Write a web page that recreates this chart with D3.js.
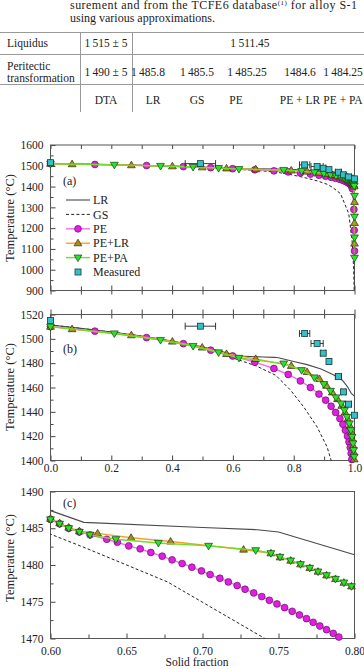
<!DOCTYPE html>
<html>
<head>
<meta charset="utf-8">
<script src="https://cdn.jsdelivr.net/npm/d3@7"></script>
<style>
  body { margin: 0; background: #fff; }
  svg { display: block; font-family: 'Liberation Serif', 'DejaVu Serif', 'Times New Roman', Times, serif; }
</style>
</head>
<body>
<svg id="fig" width="364" height="669"></svg>
<script>
// ---- table values ----
const tableHeads = ["DTA", "LR", "GS", "PE", "PE + LR", "PE + PA"];
const liquidusVals = ["1\u2009515 ± 5", "1\u2009511.45"];
const peritecticVals = ["1\u2009490 ± 5", "1\u2009485.8", "1\u2009485.5", "1\u2009485.25", "1484.6", "1\u2009484.25"];

// ---- curves, [solid fraction, temperature] ----
const lrCurve = [[0, 1511.4], [0.1, 1508.6], [0.2, 1505.6], [0.3, 1502.2], [0.4, 1498.2], [0.5, 1493.4],
  [0.55, 1490.4], [0.6, 1487.4], [0.622, 1485.8], [0.7, 1485.1], [0.736, 1484.8], [0.75, 1484.5],
  [0.8, 1481.4], [0.844, 1478.8], [0.89, 1475.2], [0.932, 1470.3], [0.96, 1466], [0.976, 1461],
  [0.99, 1455], [1.0, 1453], [1.0, 900]];
const gsCurve = [[0, 1511.4], [0.1, 1508.6], [0.2, 1505.6], [0.3, 1502.2], [0.4, 1498], [0.5, 1492.6],
  [0.55, 1489.2], [0.6, 1484.2], [0.622, 1482.4], [0.677, 1477.7], [0.741, 1470], [0.789, 1458],
  [0.833, 1444], [0.877, 1427.6], [0.91, 1411], [0.927, 1397], [0.954, 1366], [0.981, 1270],
  [0.992, 1142], [0.997, 1013], [0.999, 900]];

// full range markers, panels (a) and (b)
const peFull = [[0, 1510], [0.146, 1506.3], [0.316, 1501], [0.437, 1496], [0.527, 1490.7], [0.599, 1485.9],
  [0.672, 1480.8], [0.735, 1475.6], [0.782, 1470.7], [0.822, 1465.4], [0.855, 1460], [0.883, 1454.6],
  [0.905, 1449.6], [0.923, 1444.6], [0.938, 1439.5], [0.952, 1434.5], [0.962, 1429.8], [0.970, 1424.9],
  [0.977, 1420], [0.982, 1415.3], [0.986, 1410.6], [0.989, 1405.8], [0.991, 1400.8], [0.993, 1390],
  [0.998, 1290], [0.999, 1190], [1.0, 1090]];
const pelrFull = [[0, 1510], [0.071, 1508], [0.266, 1503], [0.401, 1497.8], [0.499, 1492.9], [0.579, 1487.6],
  [0.675, 1483.5], [0.792, 1477.8], [0.844, 1472.8], [0.885, 1467], [0.908, 1461.5], [0.927, 1456],
  [0.944, 1450.5], [0.958, 1445], [0.969, 1439.5], [0.978, 1434], [0.985, 1428.5], [0.99, 1423],
  [0.993, 1417.5], [0.996, 1412], [0.998, 1406.5], [0.999, 1401], [1.0, 1326], [1.0, 1225], [1.0, 1126]];
const pepaFull = [[0, 1510], [0.21, 1504.4], [0.362, 1499], [0.469, 1494.1], [0.553, 1488.8], [0.62, 1484.3],
  [0.767, 1479.6], [0.826, 1474.2], [0.868, 1468.2], [0.899, 1462.7], [0.921, 1457.2], [0.939, 1451.8],
  [0.956, 1446.8], [0.967, 1441.3], [0.975, 1435.8], [0.983, 1430.4], [0.988, 1424.9], [0.992, 1419.4],
  [0.995, 1414], [0.997, 1408.5], [0.999, 1403], [1.0, 1355], [1.0, 1255], [1.0, 1155], [1.0, 1057]];

// zoomed markers, panel (c)
const peZoom = [[0.6, 1486.2], [0.606, 1485.6], [0.612, 1485.0], [0.619, 1484.5], [0.626, 1484.1],
  [0.637, 1483.5], [0.644, 1483.1], [0.6515, 1482.6], [0.659, 1482.2], [0.666, 1481.7], [0.6735, 1481.2],
  [0.680, 1480.7], [0.6866, 1480.2], [0.693, 1479.7], [0.6993, 1479.2], [0.705, 1478.7], [0.7114, 1478.2],
  [0.717, 1477.7], [0.7228, 1477.2], [0.728, 1476.7], [0.7337, 1476.2], [0.739, 1475.7], [0.744, 1475.2],
  [0.749, 1474.7], [0.754, 1474.2], [0.759, 1473.7], [0.7638, 1473.2], [0.7684, 1472.7], [0.7728, 1472.2],
  [0.7772, 1471.7], [0.7816, 1471.2], [0.786, 1470.7], [0.7897, 1470.2], [0.794, 1469.7]];
const pelrZoom = [[0.6, 1486.3], [0.606, 1485.7], [0.612, 1485.1], [0.619, 1484.6], [0.631, 1484.3],
  [0.653, 1483.7], [0.679, 1483.2], [0.727, 1482.1], [0.745, 1481.6], [0.751, 1481.05], [0.758, 1480.6],
  [0.7645, 1480.1], [0.7706, 1479.6], [0.776, 1479.1], [0.7816, 1478.6], [0.7875, 1478.1], [0.793, 1477.6],
  [0.798, 1477.1]];
const pepaZoom = [[0.6, 1486.2], [0.606, 1485.6], [0.612, 1485.0], [0.619, 1484.5], [0.626, 1484.1],
  [0.643, 1483.5], [0.671, 1483.0], [0.704, 1482.6], [0.735, 1482.0], [0.745, 1481.6], [0.751, 1481.1],
  [0.758, 1480.6], [0.7645, 1480.1], [0.7706, 1479.6], [0.776, 1479.1], [0.7816, 1478.6], [0.7875, 1478.1],
  [0.793, 1477.6], [0.798, 1477.1]];

// measured: [solid fraction, temperature, +- fraction error]
const measured = [[0, 1515, 0], [0.493, 1510.4, 0.05], [0.836, 1504.4, 0.017], [0.877, 1496.2, 0.02],
  [0.897, 1488.2, 0.008], [0.916, 1481.4, 0.006], [0.947, 1469, 0.01], [0.964, 1456.4, 0.006],
  [0.98, 1446.3, 0.01], [1.0, 1437.2, 0]];

// ticks
const xTicksFull = [0, 0.2, 0.4, 0.6, 0.8, 1.0];
const xTicksZoom = [0.60, 0.65, 0.70, 0.75, 0.80];
const yTicksA = [900, 1000, 1100, 1200, 1300, 1400, 1500, 1600];
const yTicksB = [1400, 1420, 1440, 1460, 1480, 1500, 1520];
const yTicksC = [1470, 1475, 1480, 1485, 1490];

const SERIF = "'Liberation Serif', 'DejaVu Serif', 'Times New Roman', Times, serif";
const svg = d3.select("#fig");

// ---- caption and table ----
const cap = svg.append("text").attr("x", 70).attr("y", 9).attr("font-size", 12)
  .attr("textLength", 287).attr("lengthAdjust", "spacing").attr("fill", "#222");
cap.append("tspan").text("surement and from the TCFE6 database");
cap.append("tspan").attr("font-size", 7).attr("dy", -4).text("(1)");
cap.append("tspan").attr("dy", 4).text(" for alloy S-1");
svg.append("text").attr("x", 70).attr("y", 21.5).attr("font-size", 12).attr("fill", "#222")
  .text("using various approximations.");

const tbl = svg.append("g").attr("font-size", 11.5).attr("fill", "#222");
[32, 54, 84].forEach(yy => {
  tbl.append("line").attr("x1", 0).attr("x2", 364).attr("y1", yy + 0.5).attr("y2", yy + 0.5)
    .attr("stroke", "#999").attr("stroke-width", 1);
});
[80, 132].forEach(xx => {
  tbl.append("line").attr("x1", xx + 0.5).attr("x2", xx + 0.5).attr("y1", 32).attr("y2", 112)
    .attr("stroke", "#999").attr("stroke-width", 1);
});
tbl.append("text").attr("x", 7).attr("y", 47).text("Liquidus");
tbl.append("text").attr("x", 7).attr("y", 70).text("Peritectic");
tbl.append("text").attr("x", 7).attr("y", 81.5).text("transformation");
const colX = [106, 148, 197, 247, 300, 343];
const headX = [106, 153, 197, 236, 300, 343];
tbl.append("text").attr("x", 106).attr("y", 47).attr("text-anchor", "middle").text(liquidusVals[0]);
tbl.append("text").attr("x", 250).attr("y", 47).attr("text-anchor", "middle").text(liquidusVals[1]);
peritecticVals.forEach((v, i) => {
  tbl.append("text").attr("x", colX[i]).attr("y", 76).attr("text-anchor", "middle").text(v);
});
tableHeads.forEach((v, i) => {
  tbl.append("text").attr("x", headX[i]).attr("y", 104).attr("text-anchor", "middle").text(v);
});

// ---- markers ----
const COL = {
  pe: { fill: "#e020e0", stroke: "#6a106a", line: "#f070f0" },
  pelr: { fill: "#a88c22", stroke: "#3a2a08", line: "#f5a030" },
  pepa: { fill: "#2ee02e", stroke: "#124012", line: "#6fdd2a" },
  meas: { fill: "#35c0c6", stroke: "#123c40" }
};
function marker(sel, kind, cx, cy) {
  if (kind === "pe") {
    sel.append("circle").attr("cx", cx).attr("cy", cy).attr("r", 3.4)
      .attr("fill", COL.pe.fill).attr("stroke", COL.pe.stroke).attr("stroke-width", 0.7);
  } else if (kind === "pelr") {
    sel.append("path").attr("d", `M${cx},${cy - 4}L${cx + 3.9},${cy + 2.6}L${cx - 3.9},${cy + 2.6}Z`)
      .attr("fill", COL.pelr.fill).attr("stroke", COL.pelr.stroke).attr("stroke-width", 0.7);
  } else if (kind === "pepa") {
    sel.append("path").attr("d", `M${cx},${cy + 4}L${cx + 3.9},${cy - 2.6}L${cx - 3.9},${cy - 2.6}Z`)
      .attr("fill", COL.pepa.fill).attr("stroke", COL.pepa.stroke).attr("stroke-width", 0.7);
  } else {
    sel.append("rect").attr("x", cx - 3).attr("y", cy - 3).attr("width", 6).attr("height", 6)
      .attr("fill", COL.meas.fill).attr("stroke", COL.meas.stroke).attr("stroke-width", 0.8);
  }
}

// ---- panels ----
const X0 = 50.5, X1 = 354.5;
const panels = [
  { id: "a", top: 145, bottom: 290.5, xDom: [0, 1], yDom: [900, 1600], xTicks: xTicksFull, yTicks: yTicksA,
    pe: peFull, pelr: pelrFull, pepa: pepaFull, xLabels: false, topTicks: true, bottomOut: true, label: "(a)",
    labelY: 185, titleY: 218 },
  { id: "b", top: 314.5, bottom: 460.5, xDom: [0, 1], yDom: [1400, 1520], xTicks: xTicksFull, yTicks: yTicksB,
    pe: peFull, pelr: pelrFull, pepa: pepaFull, xLabels: true, xPad: 3, fmt: d3.format(".1f"), topTicks: true,
    topOut: true, label: "(b)", labelY: 353, titleY: 387 },
  { id: "c", top: 491.5, bottom: 638.5, xDom: [0.6, 0.8], yDom: [1470, 1490], xTicks: xTicksZoom, yTicks: yTicksC,
    pe: peZoom, pelr: pelrZoom, pepa: pepaZoom, xLabels: true, xPad: 8, fmt: d3.format(".2f"), topTicks: false,
    label: "(c)", labelY: 507, titleY: 558 }
];

function mids(t) {
  const out = [];
  for (let i = 0; i < t.length - 1; i++) out.push((t[i] + t[i + 1]) / 2);
  return out;
}
function styleAxis(g) {
  g.select(".domain").remove();
  g.attr("font-family", SERIF).attr("font-size", 11.5).attr("color", "#444");
  g.selectAll("text").attr("fill", "#222");
}

panels.forEach(p => {
  const g = svg.append("g");
  const x = d3.scaleLinear().domain(p.xDom).range([X0, X1]);
  const y = d3.scaleLinear().domain(p.yDom).range([p.bottom, p.top]);
  const clipId = "clip-" + p.id;
  svg.append("clipPath").attr("id", clipId).append("rect")
    .attr("x", X0).attr("y", p.top).attr("width", X1 - X0).attr("height", p.bottom - p.top);

  // y axis
  g.append("g").attr("transform", `translate(${X0},0)`)
    .call(d3.axisLeft(y).tickValues(mids(p.yTicks)).tickSize(-3).tickFormat("")).call(styleAxis);
  g.append("g").attr("transform", `translate(${X0},0)`)
    .call(d3.axisLeft(y).tickValues(p.yTicks).tickSize(-5).tickPadding(7).tickFormat(d3.format("d"))).call(styleAxis);

  // x axis bottom
  const xMinor = mids(p.xTicks);
  g.append("g").attr("transform", `translate(0,${p.bottom})`)
    .call(d3.axisBottom(x).tickValues(xMinor).tickSize(-4).tickFormat("")).call(styleAxis);
  g.append("g").attr("transform", `translate(0,${p.bottom})`)
    .call(d3.axisBottom(x).tickValues(p.xTicks).tickSize(-5).tickPadding(p.xPad || 3)
      .tickFormat(p.xLabels ? p.fmt : "")).call(styleAxis);
  if (p.bottomOut) {
    g.append("g").attr("transform", `translate(0,${p.bottom})`)
      .call(d3.axisBottom(x).tickValues(p.xTicks.concat(xMinor)).tickSize(4).tickFormat("")).call(styleAxis);
  }
  if (p.topTicks) {
    g.append("g").attr("transform", `translate(0,${p.top})`)
      .call(d3.axisTop(x).tickValues(p.xTicks.concat(xMinor)).tickSize(-4).tickFormat("")).call(styleAxis);
  }
  if (p.topOut) {
    g.append("g").attr("transform", `translate(0,${p.top})`)
      .call(d3.axisTop(x).tickValues(p.xTicks.concat(xMinor)).tickSize(5).tickFormat("")).call(styleAxis);
  }

  // frame
  g.append("rect").attr("x", X0).attr("y", p.top).attr("width", X1 - X0).attr("height", p.bottom - p.top)
    .attr("fill", "none").attr("stroke", "#555").attr("stroke-width", 1);

  // lines
  const line = d3.line().x(d => x(d[0])).y(d => y(d[1]));
  const lines = g.append("g").attr("clip-path", `url(#${clipId})`);
  lines.append("path").datum(gsCurve).attr("d", line).attr("fill", "none")
    .attr("stroke", "#222").attr("stroke-width", 1).attr("stroke-dasharray", "3,2.2");
  lines.append("path").datum(lrCurve).attr("d", line).attr("fill", "none")
    .attr("stroke", "#4a4a4a").attr("stroke-width", 1.1);

  const inside = d => {
    const ty = (p.yDom[1] - p.yDom[0]) * 0.006, tx = (p.xDom[1] - p.xDom[0]) * 0.006;
    return d[1] >= p.yDom[0] - ty && d[1] <= p.yDom[1] + ty && d[0] >= p.xDom[0] - tx && d[0] <= p.xDom[1] + tx;
  };
  ["pe", "pelr", "pepa"].forEach(k => {
    const data = p[k];
    g.append("g").attr("clip-path", `url(#${clipId})`).append("path").datum(data).attr("d", line)
      .attr("fill", "none").attr("stroke", COL[k].line).attr("stroke-width", 1.4);
    const mg = g.append("g");
    data.filter(inside).forEach(d => marker(mg, k, x(d[0]), y(d[1])));
  });

  // measured with error bars
  if (p.id !== "c") {
    const mg = g.append("g");
    measured.filter(inside).forEach(d => {
      if (d[2] > 0) {
        const xa = x(d[0] - d[2]), xb = x(d[0] + d[2]), yy = y(d[1]);
        mg.append("path").attr("d", `M${xa},${yy}H${xb}M${xa},${yy - 3.5}V${yy + 3.5}M${xb},${yy - 3.5}V${yy + 3.5}`)
          .attr("stroke", "#222").attr("stroke-width", 0.9).attr("fill", "none");
      }
      marker(mg, "meas", x(d[0]), y(d[1]));
    });
  }

  // panel label and axis title
  svg.append("text").attr("x", 63).attr("y", p.labelY).attr("font-size", 12).attr("fill", "#222").text(p.label);
  svg.append("text").attr("transform", `translate(14,${p.titleY}) rotate(-90)`).attr("text-anchor", "middle")
    .attr("font-size", 12.5).attr("fill", "#222").text("Temperature (°C)");
});

svg.append("text").attr("x", 197).attr("y", 665.5).attr("text-anchor", "middle").attr("font-size", 11.5)
  .attr("fill", "#222").text("Solid fraction");

// ---- legend in panel (a) ----
const legendItems = [
  { name: "LR", kind: "lr" }, { name: "GS", kind: "gs" }, { name: "PE", kind: "pe" },
  { name: "PE+LR", kind: "pelr" }, { name: "PE+PA", kind: "pepa" }, { name: "Measured", kind: "meas" }
];
const lg = svg.append("g");
legendItems.forEach((it, i) => {
  const yy = 200 + i * 14.4;
  if (it.kind === "lr") {
    lg.append("line").attr("x1", 66).attr("x2", 90).attr("y1", yy).attr("y2", yy).attr("stroke", "#4a4a4a").attr("stroke-width", 1.1);
  } else if (it.kind === "gs") {
    lg.append("line").attr("x1", 66).attr("x2", 90).attr("y1", yy).attr("y2", yy).attr("stroke", "#222")
      .attr("stroke-dasharray", "3,2.2");
  } else if (it.kind === "meas") {
    marker(lg, "meas", 78, yy);
  } else {
    lg.append("line").attr("x1", 66).attr("x2", 90).attr("y1", yy).attr("y2", yy).attr("stroke", COL[it.kind].line).attr("stroke-width", 1.4);
    marker(lg, it.kind, 78, yy);
  }
  lg.append("text").attr("x", 93).attr("y", yy + 4.2).attr("font-size", 12).attr("fill", "#222").text(it.name);
});
</script>
</body>
</html>
